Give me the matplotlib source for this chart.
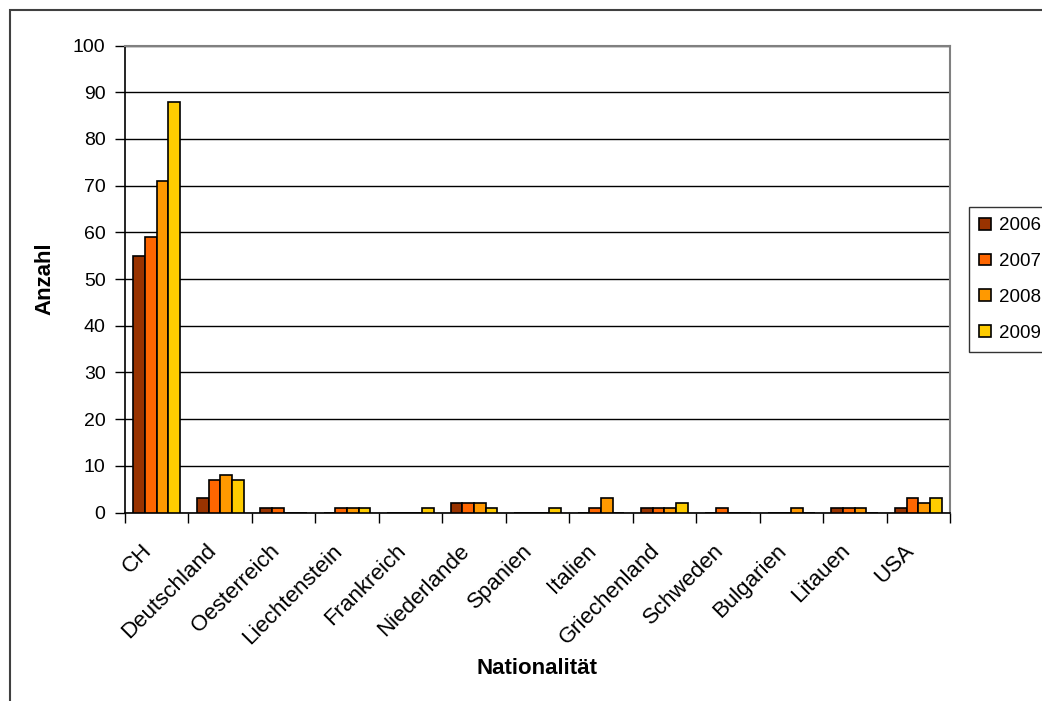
import matplotlib.pyplot as plt
import numpy as np
from matplotlib.patches import Rectangle
from matplotlib.transforms import ScaledTranslation

plt.rcParams['font.family'] = ['Liberation Sans', 'DejaVu Sans']

countries = ['CH', 'Deutschland', 'Oesterreich', 'Liechtenstein', 'Frankreich',
             'Niederlande', 'Spanien', 'Italien', 'Griechenland', 'Schweden',
             'Bulgarien', 'Litauen', 'USA']
years = ['2006', '2007', '2008', '2009']
v2006 = [55, 3, 1, 0, 0, 2, 0, 0, 1, 0, 0, 1, 1]
v2007 = [59, 7, 1, 1, 0, 2, 0, 1, 1, 1, 0, 1, 3]
v2008 = [71, 8, 0, 1, 0, 2, 0, 3, 1, 0, 1, 1, 2]
v2009 = [88, 7, 0, 1, 1, 1, 1, 0, 2, 0, 0, 0, 3]
colors = ['#993300', '#FF6600', '#FF9900', '#FFCC00']

W, H = 1042, 701
fig = plt.figure(figsize=(W / 100, H / 100), dpi=100)
ax = fig.add_axes([125 / W, 1 - 512.5 / H, 825 / W, (512.5 - 45.5) / H])

x = np.arange(len(countries))
bw = 0.184
for i, vals in enumerate([v2006, v2007, v2008, v2009]):
    ax.bar(x + (i - 1.5) * bw, vals, width=bw, color=colors[i],
           edgecolor='black', linewidth=1.2, label=years[i], zorder=3)

ax.set_xlim(-0.5, len(countries) - 0.5)
ax.set_ylim(0, 100)
ax.set_yticks(np.arange(0, 101, 10))
ax.yaxis.grid(True, color='black', lw=1, zorder=0)
ax.set_xticks(np.arange(-0.5, len(countries), 1.0))
ax.set_xticklabels([])
ax.set_xticks(x, minor=True)
ax.set_xticklabels(countries, minor=True, rotation=45, ha='right', va='top',
                   rotation_mode='anchor', fontsize=16)
ax.tick_params(axis='x', which='minor', length=0, pad=20)
ax.tick_params(axis='x', which='major', length=7, width=1, direction='out')
ax.tick_params(axis='y', length=7, width=1, direction='out', labelsize=14, pad=7)
shift = ScaledTranslation(-15 / 100, 0, fig.dpi_scale_trans)
for lab in ax.get_xticklabels(minor=True):
    lab.set_transform(lab.get_transform() + shift)

for side in ('left', 'bottom'):
    ax.spines[side].set_color('black')
    ax.spines[side].set_linewidth(1.2)
for side in ('top', 'right'):
    ax.spines[side].set_color('#808080')
    ax.spines[side].set_linewidth(1.5)

ax.set_ylabel('Anzahl', fontsize=16, fontweight='bold', va='center')
ax.yaxis.set_label_coords(-80 / 825, 0.5)
ax.set_xlabel('Nationalität', fontsize=16, fontweight='bold', va='center')
ax.xaxis.set_label_coords(0.5, -(668 - 512.5) / 467)

leg = fig.legend(loc='upper left', bbox_to_anchor=(969 / W, 1 - 207 / H),
                 fontsize=13.5, frameon=True, fancybox=False, handlelength=0.6,
                 handleheight=0.6, handletextpad=0.45, labelspacing=1.0,
                 borderpad=0.55, borderaxespad=0)
leg.get_frame().set_edgecolor('black')
leg.get_frame().set_linewidth(1)

# outer chart border (cropped chart area)
fig.patches.append(Rectangle((10 / W, -0.1), 1.2, 1.1 - 10 / H,
                             transform=fig.transFigure, fill=False,
                             edgecolor='#404040', lw=1.5))

fig.savefig('out.png', dpi=100)
